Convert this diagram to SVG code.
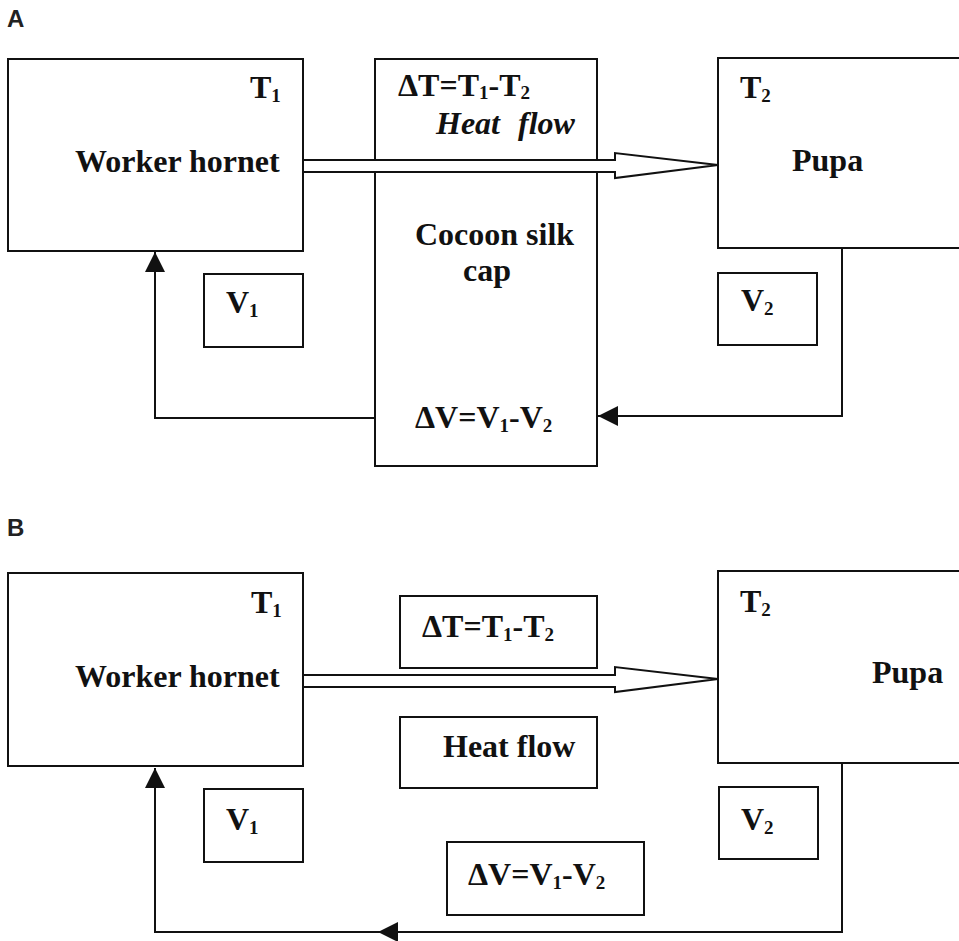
<svg xmlns="http://www.w3.org/2000/svg" width="959" height="941" viewBox="0 0 959 941">
<style>
.box{fill:#fff;stroke:#111;stroke-width:2}
.t{font-family:"Liberation Serif","Times New Roman",serif;font-weight:bold;font-size:32px;fill:#111}
.ti{font-family:"Liberation Serif","Times New Roman",serif;font-weight:bold;font-style:italic;font-size:32px;fill:#111}
.sub{font-size:19px}
.pl{font-family:"Liberation Sans",Arial,sans-serif;font-weight:bold;font-size:24px;fill:#222}
.ln{fill:none;stroke:#111;stroke-width:2}
.big{fill:#fff;stroke:#111;stroke-width:2;stroke-linejoin:miter}
</style>
<defs>
<marker id="ah" viewBox="0 0 20 20" refX="20" refY="10" markerWidth="20" markerHeight="20" markerUnits="userSpaceOnUse" orient="auto">
<path d="M0,0 L20,10 L0,20 z" fill="#111"/>
</marker>
</defs>
<rect width="959" height="941" fill="#fff"/>

<text class="pl" x="7" y="27">A</text>
<text class="pl" x="7" y="536">B</text>

<!-- Panel A -->
<g id="a-worker">
<rect class="box" x="8" y="59" width="295" height="192"/>
<text class="t" x="250" y="98">T<tspan class="sub" dy="4">1</tspan></text>
<text class="t" x="75" y="172">Worker hornet</text>
</g>
<g id="a-cocoon">
<rect class="box" x="375" y="59" width="222" height="407"/>
<text class="t" x="398" y="96">ΔT=T<tspan class="sub" dy="3">1</tspan><tspan dy="-3">-T</tspan><tspan class="sub" dy="3">2</tspan></text>
<text class="ti" x="436" y="134" word-spacing="10">Heat flow</text>
<text class="t" x="415" y="245">Cocoon silk</text>
<text class="t" x="463" y="281">cap</text>
<text class="t" x="415" y="428">ΔV=V<tspan class="sub" dy="4">1</tspan><tspan dy="-4">-V</tspan><tspan class="sub" dy="4">2</tspan></text>
</g>
<g id="a-pupa">
<rect class="box" x="718" y="58" width="250" height="190"/>
<text class="t" x="740" y="98">T<tspan class="sub" dy="4">2</tspan></text>
<text class="t" x="792" y="171">Pupa</text>
</g>
<g id="a-v1">
<rect class="box" x="204" y="274" width="99" height="73"/>
<text class="t" x="226" y="313">V<tspan class="sub" dy="4">1</tspan></text>
</g>
<g id="a-v2">
<rect class="box" x="718" y="273" width="99" height="72"/>
<text class="t" x="741" y="311">V<tspan class="sub" dy="4">2</tspan></text>
</g>

<!-- Panel B -->
<g id="b-worker">
<rect class="box" x="8" y="573" width="295" height="193"/>
<text class="t" x="251" y="613">T<tspan class="sub" dy="4">1</tspan></text>
<text class="t" x="75" y="687">Worker hornet</text>
</g>
<g id="b-dt">
<rect class="box" x="400" y="596" width="197" height="72"/>
<text class="t" x="422" y="637">ΔT=T<tspan class="sub" dy="4">1</tspan><tspan dy="-4">-T</tspan><tspan class="sub" dy="4">2</tspan></text>
</g>
<g id="b-heat">
<rect class="box" x="400" y="717" width="197" height="71"/>
<text class="t" x="443" y="757">Heat flow</text>
</g>
<g id="b-dv">
<rect class="box" x="447" y="842" width="197" height="73"/>
<text class="t" x="468" y="885">ΔV=V<tspan class="sub" dy="4">1</tspan><tspan dy="-4">-V</tspan><tspan class="sub" dy="4">2</tspan></text>
</g>
<g id="b-pupa">
<rect class="box" x="718" y="571" width="250" height="192"/>
<text class="t" x="740" y="612">T<tspan class="sub" dy="4">2</tspan></text>
<text class="t" x="872" y="683">Pupa</text>
</g>
<g id="b-v1">
<rect class="box" x="204" y="789" width="99" height="73"/>
<text class="t" x="226" y="830">V<tspan class="sub" dy="4">1</tspan></text>
</g>
<g id="b-v2">
<rect class="box" x="719" y="787" width="99" height="72"/>
<text class="t" x="741" y="830">V<tspan class="sub" dy="4">2</tspan></text>
</g>

<g id="connectors">
<polygon class="big" points="303,160 615,160 615,153 718,165 615,178 615,172 303,172"/>
<polyline class="ln" points="842,248 842,416 598,416" marker-end="url(#ah)"/>
<polyline class="ln" points="375,418 155,418 155,252" marker-end="url(#ah)"/>
<polygon class="big" points="303,675 615,675 615,667 718,679 615,692 615,687 303,687"/>
<polyline class="ln" points="842,763 842,932 378,932" marker-end="url(#ah)"/>
<polyline class="ln" points="378,932 155,932 155,768" marker-end="url(#ah)"/>
</g>
</svg>
